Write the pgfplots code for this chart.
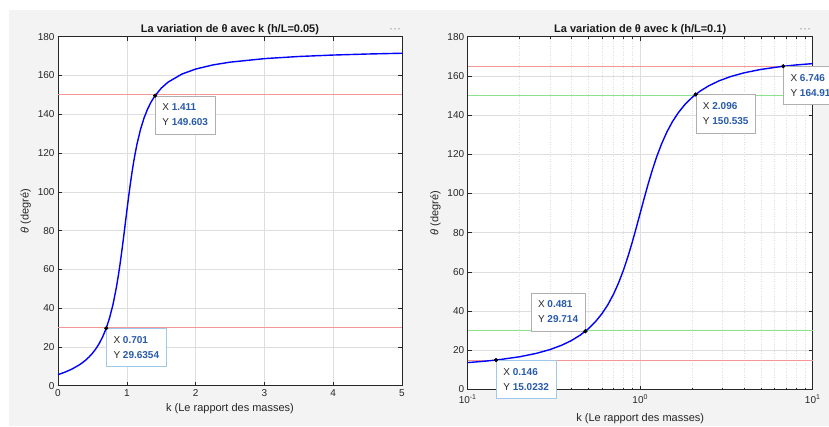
\documentclass[border=0pt]{standalone}
\usepackage{pgfplots}
\pgfplotsset{compat=1.18}
\usepackage{fontspec}
\setmainfont{Liberation Sans}

\definecolor{bgc}{RGB}{243,243,243}
\definecolor{axc}{RGB}{38,38,38}
\definecolor{gridc}{RGB}{222,222,222}
\definecolor{refred}{RGB}{245,150,150}
\definecolor{refgreen}{RGB}{140,225,140}
\definecolor{tipblue}{RGB}{40,90,170}
\definecolor{tipedge}{RGB}{175,175,175}
\definecolor{tipedgeb}{RGB}{160,200,235}

\pgfplotsset{
  matlab/.style={
    scale only axis,
    axis background/.style={fill=white},
    axis line style={axc, line width=0.6pt},
    tick style={axc, line width=0.5pt},
    tick align=inside,
    major tick length=4pt,
    minor tick length=2pt,
    major grid style={gridc, line width=0.5pt},
    ticklabel style={font=\fontsize{10}{12}\selectfont, text=axc},
    label style={font=\fontsize{11}{13}\selectfont, text=axc},
    title style={font=\bfseries\fontsize{11}{13}\selectfont, text=black!90,
                 at={(0.5,1)}, anchor=south, yshift=-8pt},
    /pgf/number format/assume math mode=true,
    clip=false,
    ymin=0, ymax=180, ytick={0,20,...,180},
    xlabel={k (Le rapport des masses)},
    ylabel={{\itshape θ} (degré)},
  },
  curve/.style={blue, line width=1.4pt},
  refline/.style={line width=1pt},
  tipdot/.style={only marks, mark=*, mark size=1.9pt, mark options={fill=black, draw=black}},
}
\tikzset{
  tip/.style={draw=tipedge, fill=white, line width=0.6pt, inner xsep=7pt,
              inner ysep=8pt, align=left, font=\fontsize{10}{15}\selectfont, text=axc},
}

\begin{document}
\begin{tikzpicture}
\fill[white] (0,0) rectangle (829pt,426pt);
\fill[bgc] (9pt,0) rectangle (829pt,416pt);

% h/L = 0.05
\begin{axis}[matlab,
  at={(58pt,40.3pt)}, anchor=south west,
  width=344pt, height=349pt,
  xmin=0, xmax=5, xtick={0,1,...,5},
  grid=major,
  title={La variation de θ avec k (h/L=0.05)},
]
\addplot[refred, refline] coordinates {(0,150) (5,150)};
\addplot[refred, refline] coordinates {(0,30) (5,30)};
\addplot[curve] coordinates {
(0,5.711) (0.1,6.968) (0.2,8.531) (0.3,10.521) (0.35,11.733) (0.4,13.134)
(0.45,14.769) (0.5,16.699) (0.55,19.005) (0.6,21.801) (0.65,25.241)
(0.7,29.539) (0.75,34.992) (0.8,41.987) (0.85,50.964) (0.88,57.450)
(0.9,62.241) (0.92,67.380) (0.95,75.619) (0.97,81.342) (0.98,84.232)
(1,90) (1.02,95.655) (1.03,98.406) (1.05,103.707) (1.08,111.038)
(1.1,115.463) (1.12,119.511) (1.15,124.903) (1.2,132.274) (1.25,138.013)
(1.3,142.524) (1.35,146.121) (1.4,149.036) (1.5,153.435) (1.6,156.571)
(1.8,160.710) (2,163.301) (2.25,165.426) (2.5,166.866) (3,168.690)
(3.5,169.796) (4,170.538) (4.5,171.069) (5,171.469)
};
\addplot[tipdot] coordinates {(1.411,149.603) (0.701,29.6354)};
\node[tip, anchor=north west] at (axis cs:1.411,149.603)
  {X \textcolor{tipblue}{\textbf{1.411}}\\Y \textcolor{tipblue}{\textbf{149.603}}};
\node[tip, draw=tipedgeb, anchor=north west] at (axis cs:0.701,29.6354)
  {X \textcolor{tipblue}{\textbf{0.701}}\\Y \textcolor{tipblue}{\textbf{29.6354}}};
\end{axis}

% h/L = 0.1
\begin{axis}[matlab,
  at={(467.7pt,36.5pt)}, anchor=south west,
  width=345pt, height=352.8pt,
  xmode=log, xmin=0.1, xmax=10,
  xtick={0.1,1,10},
  xticklabels={10\textsuperscript{-1},10\textsuperscript{0},10\textsuperscript{1}},
  xticklabel style={yshift=-2pt},
  xlabel style={yshift=-3pt},
  minor xtick={0.2,0.3,0.4,0.5,0.6,0.7,0.8,0.9,2,3,4,5,6,7,8,9},
  xmajorgrids, ymajorgrids, xminorgrids,
  minor x grid style={gridc, dotted, line width=0.5pt},
  title={La variation de θ avec k (h/L=0.1)},
]
\addplot[refred, refline] coordinates {(0.1,165) (10,165)};
\addplot[refgreen, refline] coordinates {(0.1,150) (10,150)};
\addplot[refgreen, refline] coordinates {(0.1,30) (10,30)};
\addplot[refred, refline] coordinates {(0.1,15) (10,15)};
\addplot[curve] coordinates {
(0.1,13.736) (0.125,14.421) (0.15,15.141) (0.2,16.699) (0.25,18.435)
(0.3,20.376) (0.35,22.557) (0.4,25.017) (0.45,27.801) (0.5,30.964)
(0.55,34.560) (0.6,38.660) (0.65,43.315) (0.7,48.576) (0.75,54.462)
(0.8,60.945) (0.85,67.932) (0.9,75.256) (0.95,82.694) (1,90)
(1.05263,97.306) (1.11111,104.744) (1.17647,112.068) (1.25,119.055)
(1.33333,125.538) (1.42857,131.424) (1.53846,136.685) (1.66667,141.340)
(1.81818,145.440) (2,149.036) (2.22222,152.199) (2.5,154.983)
(2.85714,157.443) (3.33333,159.624) (4,161.565) (5,163.301)
(6.66667,164.859) (8,165.579) (10,166.264)
};
\addplot[tipdot] coordinates {(0.146,15.0232) (0.481,29.714) (2.096,150.535) (6.746,164.911)};
\node[tip, anchor=north west] at (axis cs:2.096,150.535)
  {X \textcolor{tipblue}{\textbf{2.096}}\\Y \textcolor{tipblue}{\textbf{150.535}}};
\node[tip, anchor=north west] at (axis cs:6.746,164.911)
  {X \textcolor{tipblue}{\textbf{6.746}}\\Y \textcolor{tipblue}{\textbf{164.911}}};
\node[tip, anchor=south east] at (axis cs:0.481,29.714)
  {X \textcolor{tipblue}{\textbf{0.481}}\\Y \textcolor{tipblue}{\textbf{29.714}}};
\node[tip, draw=tipedgeb, anchor=north west] at (axis cs:0.146,15.0232)
  {X \textcolor{tipblue}{\textbf{0.146}}\\Y \textcolor{tipblue}{\textbf{15.0232}}};
\end{axis}

\node[text=gray!80, font=\fontsize{12}{12}\selectfont] at (395pt,395pt) {···};
\node[text=gray!80, font=\fontsize{12}{12}\selectfont] at (805pt,395pt) {···};

\pgfresetboundingbox
\useasboundingbox (0,0) rectangle (829pt,426pt);
\end{tikzpicture}
\end{document}
